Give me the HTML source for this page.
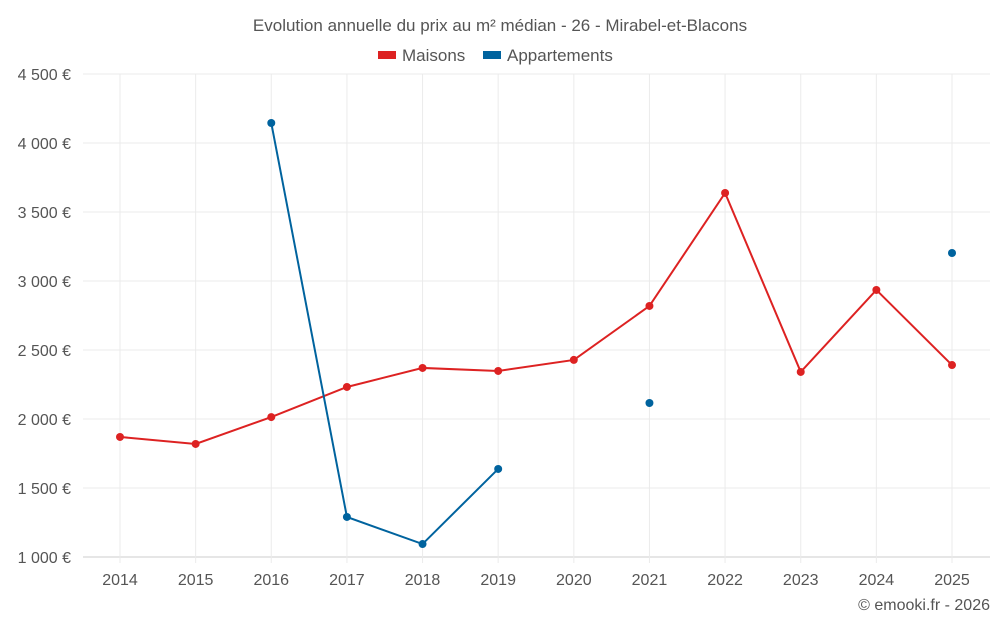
<!DOCTYPE html>
<html><head><meta charset="utf-8"><style>
body{margin:0;background:#fff;font-family:"Liberation Sans",sans-serif;}
svg text{font-family:"Liberation Sans",sans-serif;fill:#555;}
</style></head><body>
<svg id="chart" width="1000" height="625">
<text x="500" y="31" text-anchor="middle" font-size="17">Evolution annuelle du prix au m² médian - 26 - Mirabel-et-Blacons</text>
<g><rect x="378" y="51" width="18" height="8" fill="#dd2222"/><text x="402" y="61" font-size="17">Maisons</text></g>
<g><rect x="483" y="51" width="18" height="8" fill="#00639e"/><text x="507" y="61" font-size="17">Appartements</text></g>
<g id="grid"></g><g id="axes"></g><g id="series"></g>
<text x="990" y="610" text-anchor="end" font-size="16">© emooki.fr - 2026</text>
</svg>
<script>
const years=[2014,2015,2016,2017,2018,2019,2020,2021,2022,2023,2024,2025];
const maisons=[1870,1819,2014,2232,2370,2348,2428,2819,3638,2341,2935,2391];
const appartements=[null,null,4145,1290,1094,1638,null,2116,null,null,null,3203];
const yTicks=[1000,1500,2000,2500,3000,3500,4000,4500];
const yLabels=["1 000 €","1 500 €","2 000 €","2 500 €","3 000 €","3 500 €","4 000 €","4 500 €"];
const L=83,R=990,T=74,B=557;
const x=i=>120+i*(952-120)/11;
const y=v=>B-(v-1000)*(B-T)/3500;
const NS="http://www.w3.org/2000/svg";
function mk(p,t,a){const e=document.createElementNS(NS,t);for(const k in a)e.setAttribute(k,a[k]);p.appendChild(e);return e;}
const g=document.getElementById('grid'),ax=document.getElementById('axes'),s=document.getElementById('series');
yTicks.forEach((v,i)=>{
 const l=mk(g,'line',{x1:L,x2:R,y1:y(v),y2:y(v),stroke:i==0?'#ccc':'#ebebeb'});
 
 
 const t=mk(ax,'text',{x:71,y:y(v)+6,'text-anchor':'end','font-size':16});t.textContent=yLabels[i];
 
 
});
years.forEach((yr,i)=>{
 const l=mk(g,'line',{x1:x(i),x2:x(i),y1:T,y2:B+6,stroke:'#ebebeb'});
 
 
 const t=mk(ax,'text',{x:x(i),y:585,'text-anchor':'middle','font-size':16});t.textContent=yr;
 
 
});
function draw(data,color,name){
 let d='',pen=false;
 data.forEach((v,i)=>{if(v==null){pen=false;return;}d+=(pen?'L':'M')+x(i)+' '+y(v)+' ';pen=true;});
 const p=mk(s,'path',{d:d,fill:'none',stroke:color,'stroke-width':2});
 
 
 data.forEach((v,i)=>{if(v==null)return;
  const c=mk(s,'circle',{cx:x(i),cy:y(v),r:4,fill:color});
  
  
 });
}
draw(maisons,'#dd2222','maisons');
draw(appartements,'#00639e','appartements');
</script>
</body></html>
